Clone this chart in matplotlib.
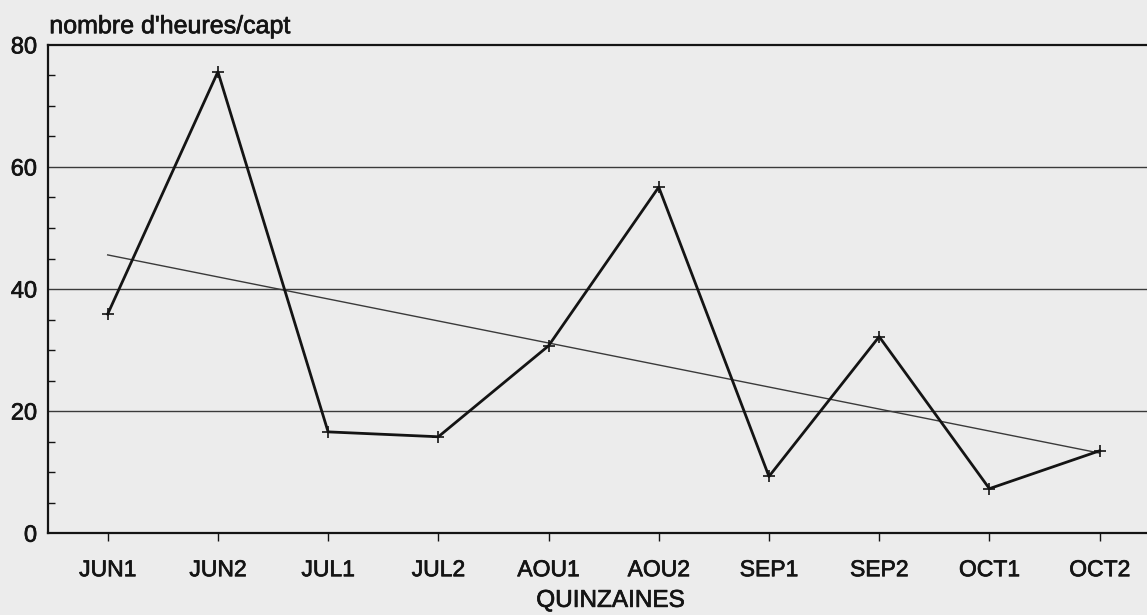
# ---------------------------------------------------------------------------
# Nombre d'heures par capteur, par quinzaine, avec droite de tendance
# ---------------------------------------------------------------------------
import numpy as np
import matplotlib.pyplot as plt
import matplotlib.patheffects as pe
from matplotlib.ticker import MultipleLocator

# ------------------------------- Data --------------------------------------
quinzaines = ['JUN1', 'JUN2', 'JUL1', 'JUL2', 'AOU1',
              'AOU2', 'SEP1', 'SEP2', 'OCT1', 'OCT2']
heures = [35.9, 75.6, 16.6, 15.8, 30.7, 56.7, 9.3, 32.2, 7.3, 13.5]

y_ticks = [0, 20, 40, 60, 80]

# ------------------------------- Style -------------------------------------
plt.rcParams['font.family'] = ['Liberation Sans', 'DejaVu Sans']
bg = '#ececec'
ink = '#141414'
heavy = [pe.withStroke(linewidth=0.5, foreground=ink)]   # scanned, inky text

fig = plt.figure(figsize=(11.47, 6.15), dpi=100, facecolor=bg)
ax = fig.add_axes([0.042, 0.133, 0.958, 0.794])
ax.set_facecolor(bg)

x = np.arange(len(quinzaines))
y = np.array(heures)

# linear trend (least squares)
slope, intercept = np.polyfit(x, y, 1)
ax.plot(x, slope * x + intercept, color='#3a3a3a', linewidth=1.0, zorder=2)

# data line with '+' markers
ax.plot(x, y, color=ink, linewidth=2.0, marker='+', markersize=9,
        markeredgewidth=1.2, zorder=3)

# horizontal grid
for v in y_ticks[1:-1]:
    ax.axhline(v, color='#3a3a3a', linewidth=1.0, zorder=1)

# ------------------------------- Axes --------------------------------------
ax.set_xlim(-0.54, 9.43)
ax.set_ylim(0, 80)

ax.set_xticks(x)
ax.set_xticklabels(quinzaines, fontsize=16.5, color=ink)
ax.tick_params(axis='x', direction='out', length=6, width=1, color=ink, pad=12)

ax.set_yticks(y_ticks)
ax.set_yticklabels([str(v) for v in y_ticks], fontsize=17, color=ink)
ax.tick_params(axis='y', which='major', length=0, pad=8)
ax.yaxis.set_minor_locator(MultipleLocator(5))
ax.tick_params(axis='y', which='minor', direction='in', length=5, width=1,
               color=ink)

for lab in ax.get_xticklabels() + ax.get_yticklabels():
    lab.set_path_effects(heavy)

for side in ['left', 'bottom', 'top']:
    ax.spines[side].set_color(ink)
    ax.spines[side].set_linewidth(1.6)
ax.spines['right'].set_visible(False)

fig.text(0.532, 0.023, 'QUINZAINES', fontsize=17.5, color=ink,
         ha='center', va='center', path_effects=heavy)
fig.text(0.043, 0.946, "nombre d'heures/capt", fontsize=18, color=ink,
         ha='left', va='baseline', path_effects=heavy)

fig.savefig('out.png', dpi=100, facecolor=bg)
